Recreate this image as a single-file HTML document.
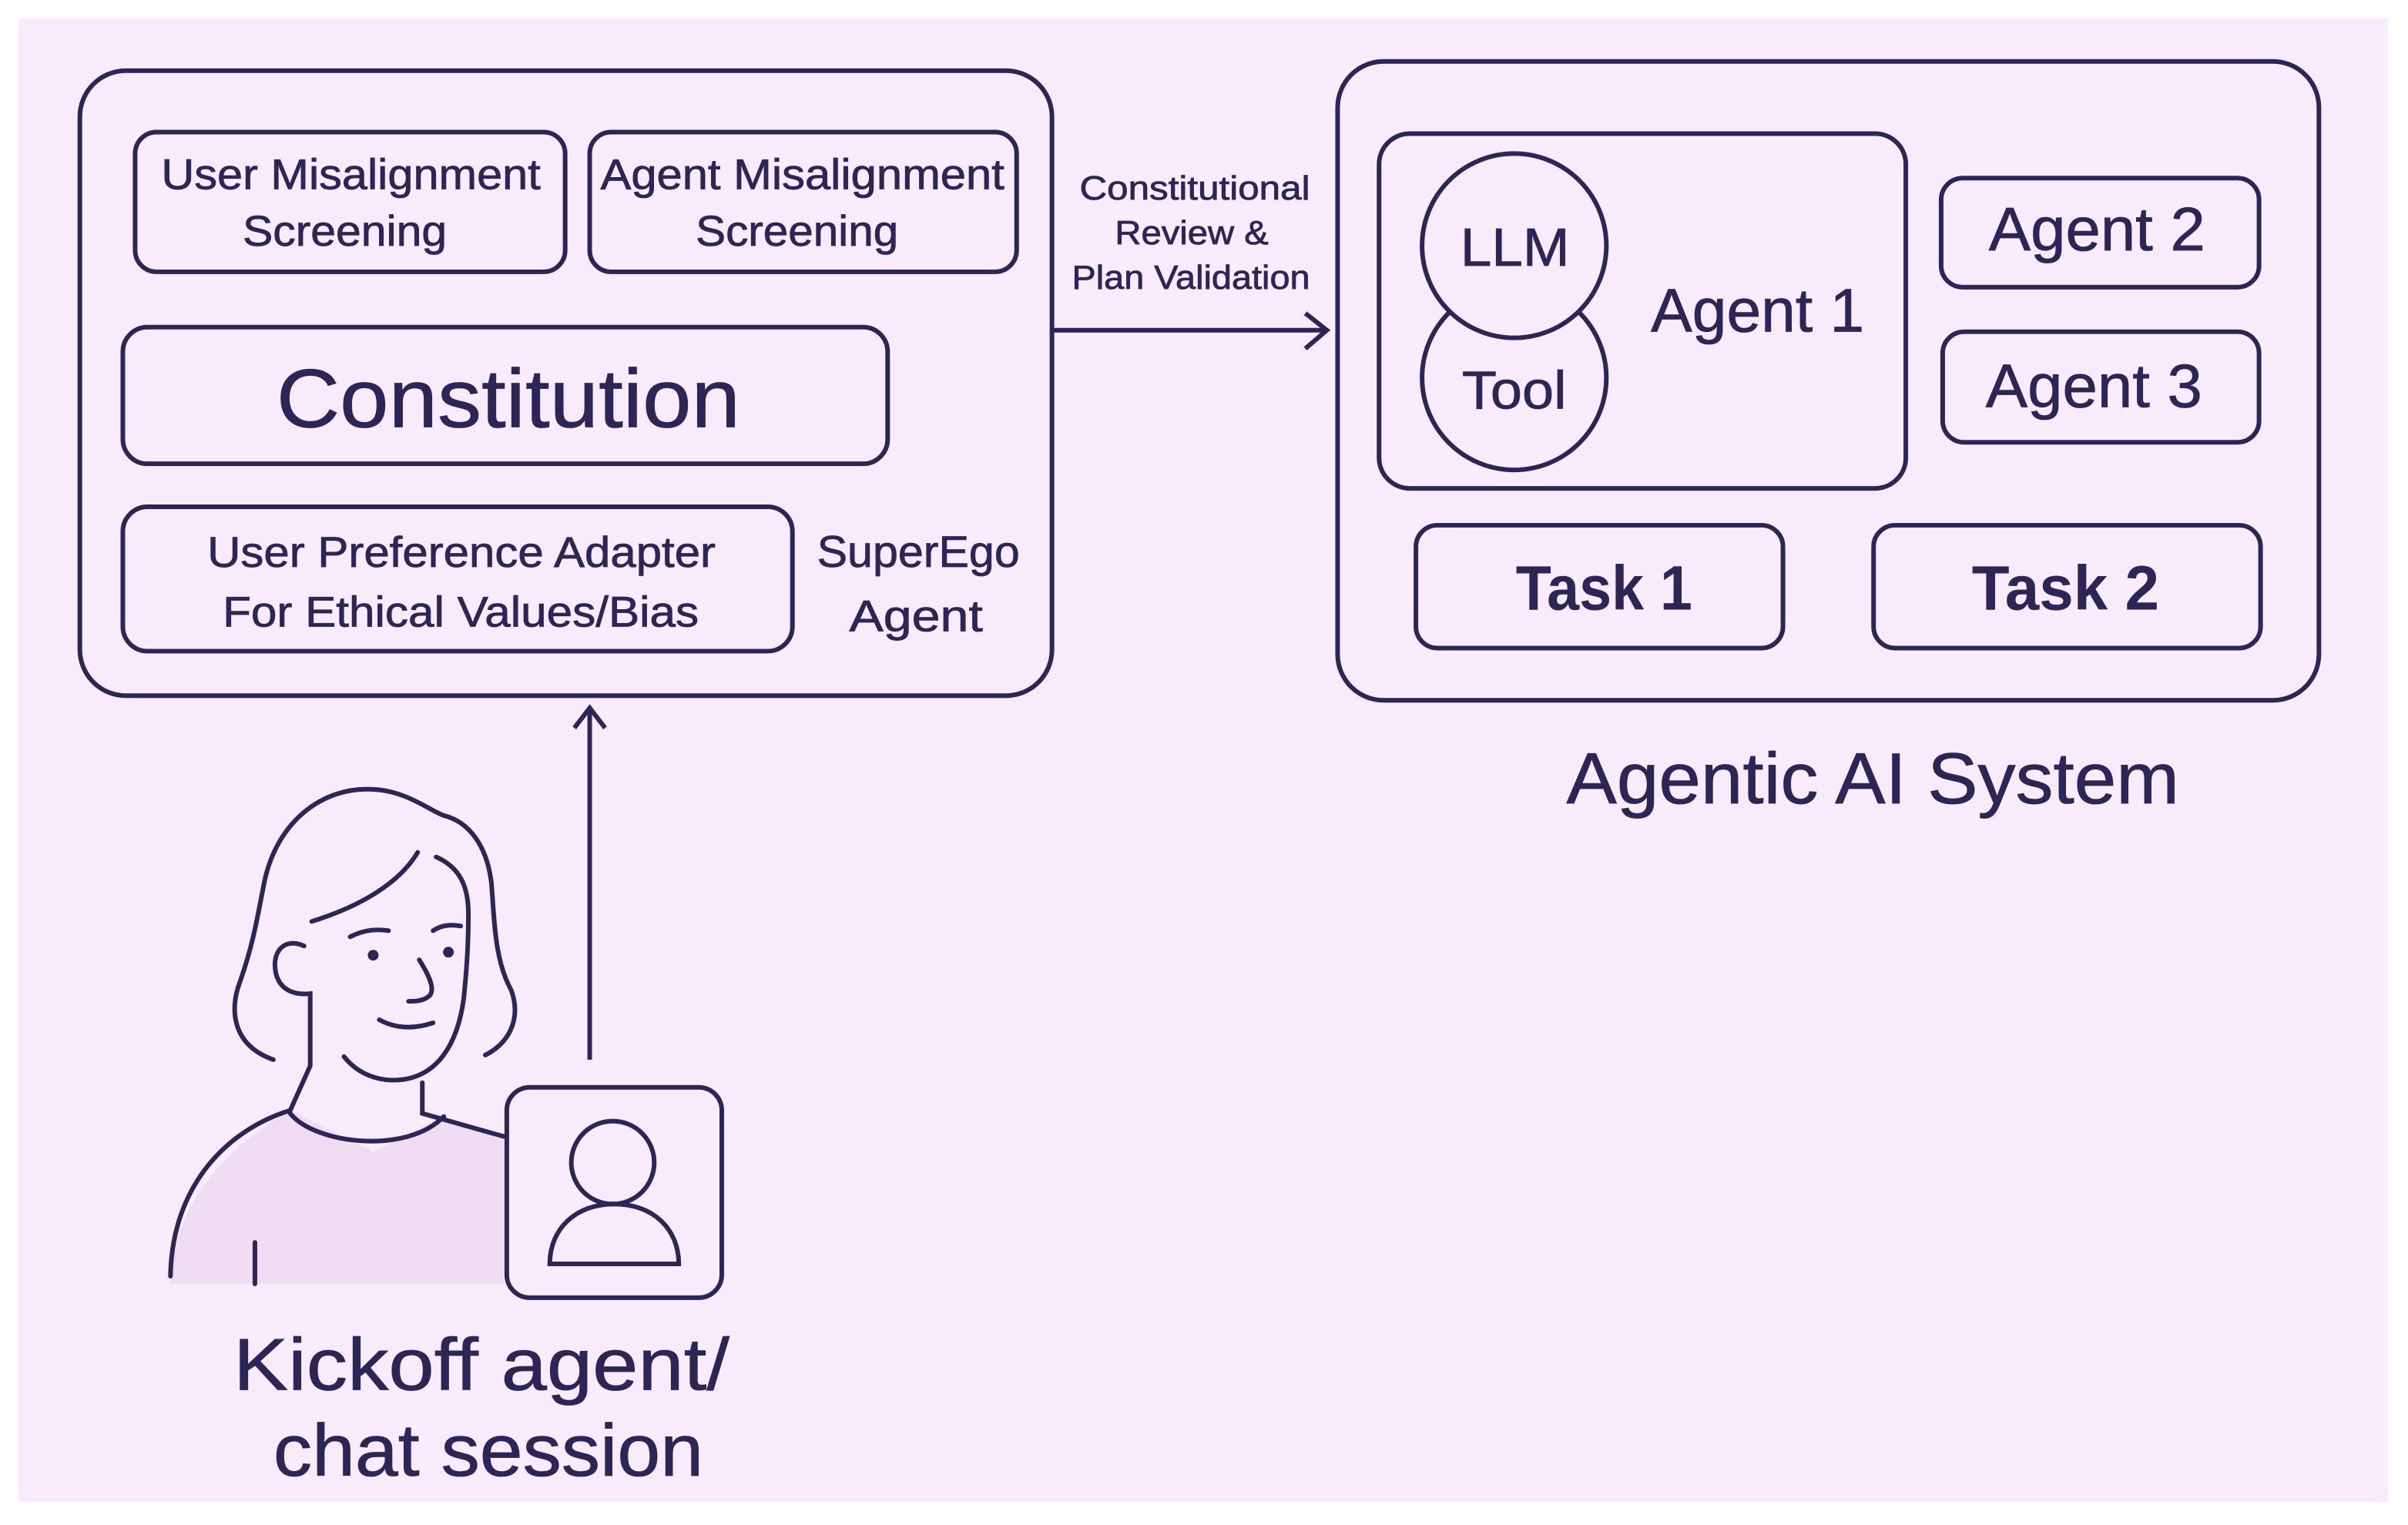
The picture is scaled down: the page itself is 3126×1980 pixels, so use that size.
<!DOCTYPE html>
<html><head><meta charset="utf-8"><style>
html,body{margin:0;padding:0;background:#fff;}
svg{display:block;}
text{font-family:"Liberation Sans",sans-serif;fill:#2b2656;stroke:#2b2656;stroke-width:0.4;}
</style></head><body>
<svg width="3126" height="1980" viewBox="0 0 1568 993" preserveAspectRatio="none" xmlns="http://www.w3.org/2000/svg">
<rect x="0" y="0" width="1568" height="993" fill="#ffffff"/>
<rect x="12" y="12" width="1543" height="966" fill="#f8ebfb"/>
<g fill="none" stroke="#2b2656" stroke-width="3">
<rect x="52" y="46" width="633" height="407" rx="30"/>
<rect x="88" y="86" width="280" height="91" rx="14"/>
<rect x="384" y="86" width="278" height="91" rx="14"/>
<rect x="80" y="213" width="498" height="89" rx="16"/>
<rect x="80" y="330" width="436" height="94" rx="16"/>
<line x1="686" y1="215" x2="862" y2="215"/>
<polyline points="850,204 864,215 850,227"/>
<rect x="871" y="40" width="639" height="416" rx="30"/>
<rect x="898" y="87" width="343" height="231" rx="20"/>
<circle cx="986" cy="246" r="60"/>
<circle cx="986" cy="160" r="60" fill="#f8ebfb"/>
<rect x="1264" y="116" width="207" height="71" rx="14"/>
<rect x="1265" y="216" width="206" height="72" rx="14"/>
<rect x="922" y="342" width="239" height="80" rx="14"/>
<rect x="1220" y="342" width="252" height="80" rx="14"/>
<line x1="384" y1="690" x2="384" y2="462"/>
<polyline points="374,474 384,461 394,474"/>
</g>
<g lengthAdjust="spacingAndGlyphs">
<text x="105" y="123" font-size="28" textLength="247" lengthAdjust="spacingAndGlyphs">User Misalignment</text>
<text x="158" y="160" font-size="28" textLength="133" lengthAdjust="spacingAndGlyphs">Screening</text>
<text x="391" y="123" font-size="28" textLength="263" lengthAdjust="spacingAndGlyphs">Agent Misalignment</text>
<text x="453" y="160" font-size="28" textLength="132" lengthAdjust="spacingAndGlyphs">Screening</text>
<text x="180" y="278" font-size="54" textLength="302" lengthAdjust="spacingAndGlyphs">Constitution</text>
<text x="135" y="369" font-size="28" textLength="331" lengthAdjust="spacingAndGlyphs">User Preference Adapter</text>
<text x="145" y="408" font-size="28" textLength="310" lengthAdjust="spacingAndGlyphs">For Ethical Values/Bias</text>
<text x="532" y="369" font-size="29" textLength="132" lengthAdjust="spacingAndGlyphs">SuperEgo</text>
<text x="553" y="411" font-size="29" textLength="87" lengthAdjust="spacingAndGlyphs">Agent</text>
<text x="703" y="130" font-size="22" textLength="150" lengthAdjust="spacingAndGlyphs">Constitutional</text>
<text x="726" y="159" font-size="22" textLength="100" lengthAdjust="spacingAndGlyphs">Review &amp;</text>
<text x="698" y="188" font-size="22" textLength="155" lengthAdjust="spacingAndGlyphs">Plan Validation</text>
<text x="951" y="173" font-size="35" textLength="71" lengthAdjust="spacingAndGlyphs">LLM</text>
<text x="952" y="266" font-size="35" textLength="68" lengthAdjust="spacingAndGlyphs">Tool</text>
<text x="1075" y="216" font-size="40" textLength="139" lengthAdjust="spacingAndGlyphs">Agent 1</text>
<text x="1295" y="163" font-size="40" textLength="141" lengthAdjust="spacingAndGlyphs">Agent 2</text>
<text x="1293" y="265" font-size="40" textLength="141" lengthAdjust="spacingAndGlyphs">Agent 3</text>
<text x="987" y="397" font-size="41" font-weight="bold" textLength="115" lengthAdjust="spacingAndGlyphs" style="stroke-width:0">Task 1</text>
<text x="1284" y="397" font-size="41" font-weight="bold" textLength="122" lengthAdjust="spacingAndGlyphs" style="stroke-width:0">Task 2</text>
<text x="1020" y="523" font-size="47" textLength="399" lengthAdjust="spacingAndGlyphs">Agentic AI System</text>
<text x="152" y="905" font-size="48" textLength="323" lengthAdjust="spacingAndGlyphs">Kickoff agent/</text>
<text x="178" y="961" font-size="48" textLength="280" lengthAdjust="spacingAndGlyphs">chat session</text>
</g>
<!-- person -->
<path d="M111,836 C112,790 140,752 189,723 L243,750 L289,727 L328,740 L328,836 Z" fill="#efdcf3"/>
<g fill="none" stroke="#2b2656" stroke-width="3" stroke-linecap="round">
<path d="M178,690 C150,680 150,656 156,640 C165,615 168,595 172,575 C180,535 210,512 243,514 C265,515 280,528 289,531 C305,535 317,550 320,575 C322,600 322,625 333,645 C340,665 330,680 316,687"/>
<path d="M203,600 C235,590 260,575 272,555"/>
<path d="M284,558 C300,565 305,578 305,595 C305,615 304,630 302,650 C298,680 285,700 262,703 C245,705 232,698 224,688"/>
<path d="M198,616 C185,610 176,620 180,635 C183,645 192,648 202,647 L202,694 L189,723"/>
<path d="M275,705 L275,725 L328,740"/>
<path d="M189,725 C205,745 265,752 289,727"/>
<path d="M189,723 C150,735 112,770 111,831"/>
<line x1="166" y1="809" x2="166" y2="836"/>
<path d="M228,610 C238,605 246,605 253,606"/>
<path d="M282,606 C288,602 294,602 300,603"/>
<path d="M273,625 C280,636 283,644 280,648 C276,652 270,652 266,652"/>
<path d="M247,664 C258,670 270,670 282,666"/>
<rect x="330" y="708" width="140" height="137" rx="15"/>
<circle cx="399" cy="757" r="27"/>
<path d="M358,823 C358,800 375,784 400,784 C425,784 442,800 442,823 Z"/>
</g>
<circle cx="243" cy="622" r="3.5" fill="#2b2656"/>
<circle cx="292" cy="620" r="3.5" fill="#2b2656"/>
</svg>
</body></html>
